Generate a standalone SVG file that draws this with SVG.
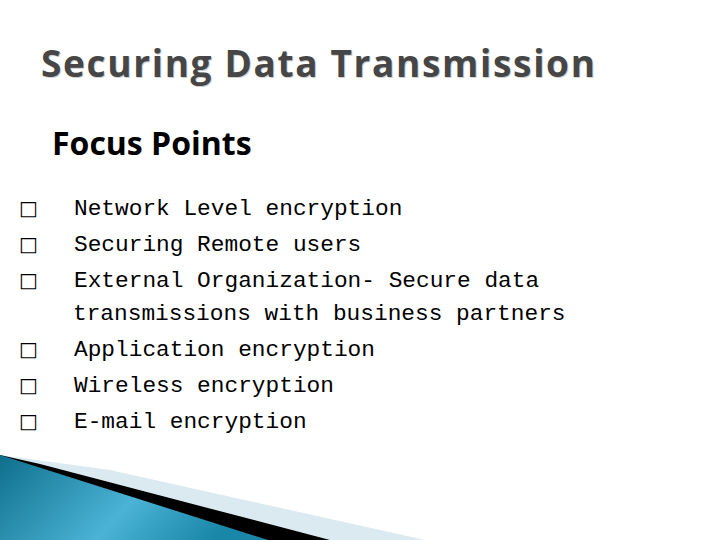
<svg xmlns="http://www.w3.org/2000/svg" width="720" height="540" viewBox="0 0 720 540">
<defs>
<linearGradient id="bl" x1="0" y1="0" x2="1" y2="0.3">
<stop offset="0" stop-color="#0f6f8c"/>
<stop offset="0.6" stop-color="#4ab3d6"/>
<stop offset="1" stop-color="#1a86a8"/>
</linearGradient>
<style>
.b{font-family:"Liberation Mono",monospace;font-size:22.8px;fill:#000}
.k{font-family:"DejaVu Sans",sans-serif;font-size:20px;fill:#000}
</style>
</defs>
<rect width="720" height="540" fill="#fff"/>
<g id="deco">
<polygon points="0,455 110,470 425,540 0,540" fill="#dbeaf0"/>
<polygon points="0,455 40,464 330,540 0,540" fill="#000"/>
<polygon points="0,455 268,540 0,540" fill="url(#bl)"/>
</g>
<g id="title">
<text x="42" y="78" font-family="Open Sans, DejaVu Sans, sans-serif" font-weight="bold" font-size="37" fill="#cfcfcf" textLength="554">Securing Data Transmission</text>
<text x="41" y="77" font-family="Open Sans, DejaVu Sans, sans-serif" font-weight="bold" font-size="37" fill="#464646" textLength="554">Securing Data Transmission</text>
</g>
<g id="heading">
<text x="52" y="155" font-family="Open Sans, DejaVu Sans, sans-serif" font-weight="bold" font-size="32" fill="#000">Focus Points</text>
</g>
<g id="bullets">
<text class="k" x="19" y="215">□</text><text class="b" x="74" y="215">Network Level encryption</text>
<text class="k" x="19" y="251">□</text><text class="b" x="74" y="251">Securing Remote users</text>
<text class="k" x="19" y="287">□</text><text class="b" x="74" y="287">External Organization- Secure data</text>
<text class="b" x="73" y="320">transmissions with business partners</text>
<text class="k" x="19" y="356">□</text><text class="b" x="74" y="356">Application encryption</text>
<text class="k" x="19" y="392">□</text><text class="b" x="74" y="392">Wireless encryption</text>
<text class="k" x="19" y="428">□</text><text class="b" x="74" y="428">E-mail encryption</text>
</g>
</svg>
